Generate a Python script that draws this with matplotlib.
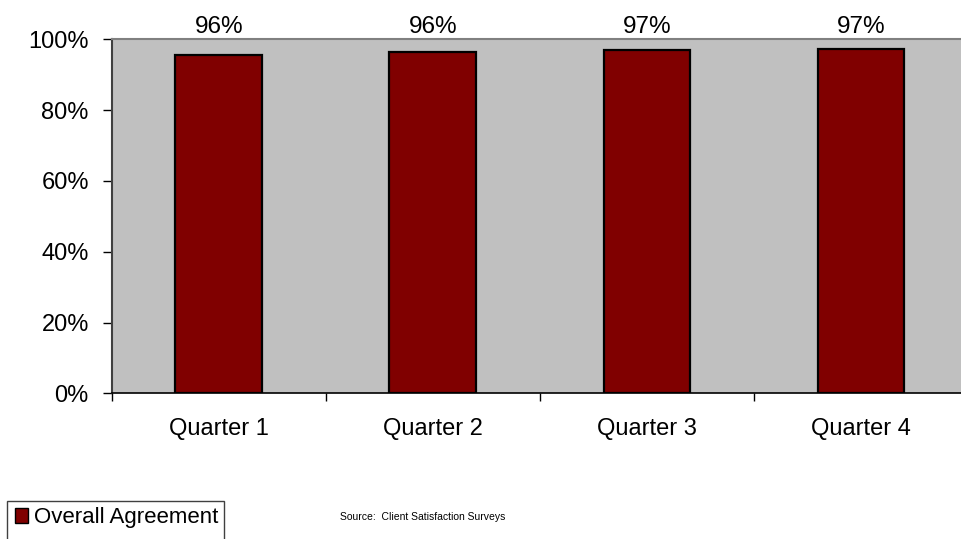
import matplotlib
matplotlib.use("Agg")
import matplotlib.pyplot as plt
from matplotlib.patches import Rectangle
from matplotlib.ticker import FixedLocator, FuncFormatter

quarters = ["Quarter 1", "Quarter 2", "Quarter 3", "Quarter 4"]
agreement = [0.957, 0.964, 0.969, 0.974]
series_name = "Overall Agreement"
y_ticks = [0.0, 0.2, 0.4, 0.6, 0.8, 1.0]
source_note = "Source:  Client Satisfaction Surveys"

plt.rcParams["font.family"] = ["Liberation Sans", "DejaVu Sans"]

W, H = 961, 539
fig = plt.figure(figsize=(W / 100, H / 100), dpi=100)
fig.patch.set_facecolor("white")

left, right = 111.7, 968.0
top, bottom = 39.3, 393.3
ax = fig.add_axes([left / W, 1 - bottom / H, (right - left) / W, (bottom - top) / H])
ax.set_facecolor("#C0C0C0")

x = list(range(len(quarters)))
bars = ax.bar(x, agreement, width=0.405, color="#800000",
              edgecolor="black", linewidth=1.6, zorder=3)

for xi, v in zip(x, agreement):
    ax.annotate(f"{round(v * 100):.0f}%", (xi, 1.0), xytext=(0, 4.5),
                textcoords="offset points", ha="center", va="baseline",
                fontsize=17.5, color="black", annotation_clip=False)

ax.set_xlim(-0.5, len(quarters) - 0.5)
ax.set_ylim(0, 1.0)

ax.yaxis.set_major_locator(FixedLocator(y_ticks))
ax.yaxis.set_major_formatter(FuncFormatter(lambda v, p: f"{v * 100:.0f}%"))
ax.tick_params(axis="y", direction="out", length=6.5, width=1, color="black",
               labelsize=17, pad=10)

# category labels centred, tick marks at category boundaries
ax.set_xticks(x)
ax.set_xticklabels(quarters)
ax.set_xticks([i - 0.5 for i in range(len(quarters) + 1)], minor=True)
ax.tick_params(axis="x", which="major", length=0, labelsize=17, pad=18)
ax.tick_params(axis="x", which="minor", direction="out", length=5.5, width=1,
               color="black")

for side in ("top", "right"):
    ax.spines[side].set_color("#808080")
    ax.spines[side].set_linewidth(1.5)
ax.spines["left"].set_color("#404040")
ax.spines["left"].set_linewidth(1.5)
ax.spines["bottom"].set_color("black")
ax.spines["bottom"].set_linewidth(1.2)

# legend box
fig.patches.append(Rectangle((7 / W, 1 - 540 / H), 217 / W, 39 / H,
                             transform=fig.transFigure, facecolor="white",
                             edgecolor="#404040", linewidth=1.0))
fig.patches.append(Rectangle((15 / W, 1 - 523 / H), 13 / W, 15 / H,
                             transform=fig.transFigure, facecolor="#800000",
                             edgecolor="black", linewidth=1.0))
fig.text(34 / W, 1 - 517 / H, series_name, fontsize=16, va="center", ha="left")

fig.text(340 / W, 1 - 517 / H, source_note, fontsize=7.5, va="center", ha="left")

fig.savefig("out.png", dpi=100)
